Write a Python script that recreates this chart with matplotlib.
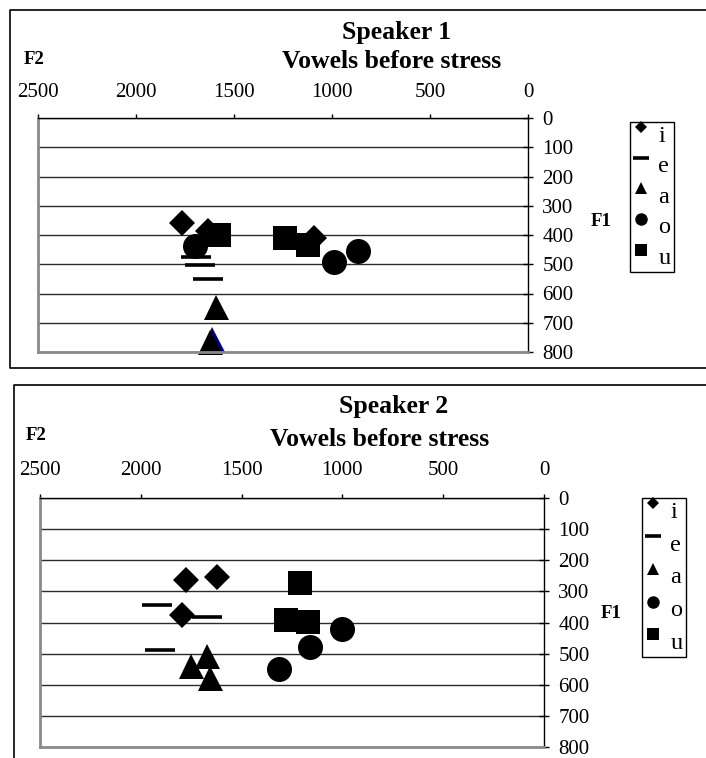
import matplotlib
matplotlib.use("Agg")
import matplotlib.pyplot as plt
from matplotlib.lines import Line2D
from matplotlib.transforms import Affine2D
from matplotlib.legend_handler import HandlerLine2D

plt.rcParams['font.family'] = ['Liberation Serif', 'DejaVu Serif']

# ---------------- data ----------------
vowels = ['i', 'e', 'a', 'o', 'u']
xticks = [2500, 2000, 1500, 1000, 500, 0]
yticks = [0, 100, 200, 300, 400, 500, 600, 700, 800]

# Speaker 1 (F2, F1)
s1_i_f2 = [1767, 1631, 1094]; s1_i_f1 = [360, 385, 410]
s1_e_f2 = [1694, 1671, 1631]; s1_e_f1 = [476, 502, 550]
s1_a_f2 = [1590, 1620];       s1_a_f1 = [646, 767]
s1_o_f2 = [1700, 991, 869];   s1_o_f1 = [436, 493, 455]
s1_u_f2 = [1574, 1240, 1124]; s1_u_f1 = [399, 410, 434]
s1_extra_f2 = [1610];         s1_extra_f1 = [757]   # navy triangle behind

# Speaker 2 (F2, F1)
s2_i_f2 = [1778, 1621, 1796]; s2_i_f1 = [264, 254, 375]
s2_e_f2 = [1919, 1673, 1907]; s2_e_f1 = [344, 381, 489]
s2_a_f2 = [1670, 1750, 1655]; s2_a_f1 = [508, 541, 578]
s2_o_f2 = [1002, 1163, 1315]; s2_o_f1 = [420, 479, 548]
s2_u_f2 = [1210, 1281, 1173]; s2_u_f1 = [274, 393, 398]

W, H = 706, 758
fig = plt.figure(figsize=(W / 100, H / 100), dpi=100)


def fx(px):
    return px / W


def fy(py):
    return 1 - py / H


markers = {'i': dict(marker='D', ms=13.0),
           'e': dict(marker='_', ms=22, mew=2.6),
           'a': dict(marker='^', ms=18),
           'o': dict(marker='o', ms=18),
           'u': dict(marker='s', ms=17)}


class UpHandler(HandlerLine2D):
    def __init__(self, dy=6, **kw):
        super().__init__(**kw)
        self.dy = dy

    def create_artists(self, legend, orig_handle, xdescent, ydescent,
                       width, height, fontsize, trans):
        arts = super().create_artists(legend, orig_handle, xdescent, ydescent,
                                      width, height, fontsize, trans)
        for a in arts:
            a.set_transform(trans + Affine2D().translate(0, self.dy))
        return arts


def draw_chart(ax_px, data, extra, frame, title_pos, f2_pos, f1_pos, leg_pos,
               xpad, title, legspace):
    l, t, r, b = ax_px
    ax = fig.add_axes([fx(l), fy(b), (r - l) / W, (b - t) / H])
    if extra is not None:
        ax.plot(extra[0], extra[1], linestyle='none', marker='^', ms=18,
                color='#00007a', mew=0, label='_nolegend_', clip_on=True)
    handles = []
    for v in vowels:
        f2, f1 = data[v]
        st = dict(markers[v])
        if v != 'e':
            st.setdefault('mew', 0)
        h, = ax.plot(f2, f1, linestyle='none', color='black', label=v,
                     clip_on=False, **st)
        handles.append(h)
    ax.set_xlim(2500, 0)
    ax.set_ylim(800, 0)
    ax.set_xticks(xticks)
    ax.set_yticks(yticks)
    ax.xaxis.tick_top()
    ax.yaxis.tick_right()
    ax.tick_params(axis='x', direction='out', length=3, width=1, pad=xpad,
                   labelsize=15, colors='black')
    ax.tick_params(axis='y', direction='inout', length=7.5, width=1, pad=6.5,
                   labelsize=15, colors='black')
    ax.set_axisbelow(True)
    ax.yaxis.grid(True, color='#2a2a2a', lw=1)
    ax.spines['top'].set_color('black'); ax.spines['top'].set_linewidth(1)
    ax.spines['right'].set_color('black'); ax.spines['right'].set_linewidth(1)
    ax.spines['left'].set_color('#8a8a8a'); ax.spines['left'].set_linewidth(2)
    ax.spines['bottom'].set_color('#8a8a8a'); ax.spines['bottom'].set_linewidth(2)

    # outer frame
    x0, y0, x1, y1 = frame
    fig.add_artist(Line2D([fx(x1), fx(x0), fx(x0), fx(x1)],
                          [fy(y0), fy(y0), fy(y1), fy(y1)],
                          color='black', lw=1.2, transform=fig.transFigure))

    fig.text(fx(title_pos[0]), fy(title_pos[1]), title, ha='center', va='center',
             fontsize=18.5, fontweight='bold')
    fig.text(fx(title_pos[2]), fy(title_pos[3]), 'Vowels before stress',
             ha='center', va='center', fontsize=18.5, fontweight='bold')
    fig.text(fx(f2_pos[0]), fy(f2_pos[1]), 'F2', ha='center', va='center',
             fontsize=13.5, fontweight='bold')
    fig.text(fx(f1_pos[0]), fy(f1_pos[1]), 'F1', ha='center', va='center',
             fontsize=13.5, fontweight='bold')

    leg = ax.legend(handles=handles, loc='upper left',
                    bbox_to_anchor=(fx(leg_pos[0]), fy(leg_pos[1])),
                    bbox_transform=fig.transFigure, frameon=True,
                    fancybox=False, shadow=False, edgecolor='black',
                    framealpha=1, borderaxespad=0, borderpad=0.12,
                    handlelength=0.7, handletextpad=0.35, labelspacing=legspace,
                    markerscale=0.5, fontsize=17.5,
                    handler_map={Line2D: UpHandler(dy=6)})
    leg.get_frame().set_linewidth(1)
    return ax


draw_chart((38, 118, 528, 352),
           {'i': (s1_i_f2, s1_i_f1), 'e': (s1_e_f2, s1_e_f1),
            'a': (s1_a_f2, s1_a_f1), 'o': (s1_o_f2, s1_o_f1),
            'u': (s1_u_f2, s1_u_f1)},
           (s1_extra_f2, s1_extra_f1),
           (10, 10, 730, 368),
           (397, 32, 392, 61), (34, 60), (601, 221), (630, 122),
           8.5, 'Speaker 1', 0.35)

draw_chart((40, 498, 544, 747),
           {'i': (s2_i_f2, s2_i_f1), 'e': (s2_e_f2, s2_e_f1),
            'a': (s2_a_f2, s2_a_f1), 'o': (s2_o_f2, s2_o_f1),
            'u': (s2_u_f2, s2_u_f1)},
           None,
           (14, 385, 730, 780),
           (394, 406, 380, 439), (36, 435), (611, 614), (642, 498),
           10, 'Speaker 2', 0.44)

fig.savefig('out.png', dpi=100)
